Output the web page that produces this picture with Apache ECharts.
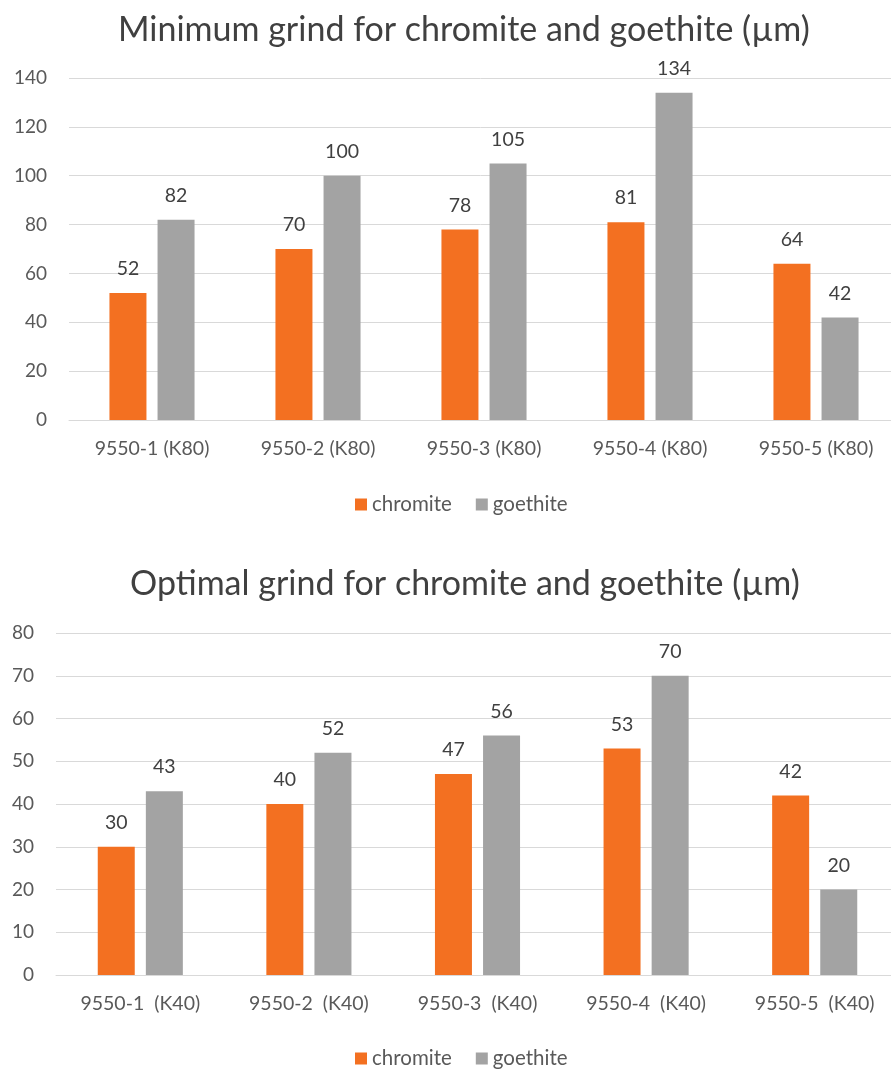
<!DOCTYPE html>
<html>
<head>
<meta charset="utf-8">
<script src="https://cdn.jsdelivr.net/npm/echarts@6/dist/echarts.min.js"></script>
<style>
html,body{margin:0;padding:0;background:#fff;}
#c{width:891px;height:1072px;}
</style>
</head>
<body>
<div id="c"></div>
<script>
const titles = ['Minimum grind for chromite and goethite (µm)', 'Optimal grind for chromite and goethite (µm)'];
const seriesNames = ['chromite', 'goethite'];
const categoriesTop = ['9550-1 (K80)', '9550-2 (K80)', '9550-3 (K80)', '9550-4 (K80)', '9550-5 (K80)'];
const categoriesBottom = ['9550-1  (K40)', '9550-2  (K40)', '9550-3  (K40)', '9550-4  (K40)', '9550-5  (K40)'];
const chromiteTop = [52, 70, 78, 81, 64];
const goethiteTop = [82, 100, 105, 134, 42];
const chromiteBottom = [30, 40, 47, 53, 42];
const goethiteBottom = [43, 52, 56, 70, 20];
const yTicksTop = {min: 0, max: 140, interval: 20};
const yTicksBottom = {min: 0, max: 80, interval: 10};

const FONT = 'Lato';
const colors = ['#F37021', '#A3A3A3'];
const labelColor = '#595959';

function xAxis(idx, data) {
  return {
    type: 'category', gridIndex: idx, data: data,
    axisTick: {show: false},
    axisLine: {lineStyle: {color: '#D9D9D9', width: 1}},
    axisLabel: {color: labelColor, fontFamily: FONT, fontSize: 19.5, margin: 19}
  };
}
function yAxis(idx, t) {
  return {
    type: 'value', gridIndex: idx, min: t.min, max: t.max, interval: t.interval,
    axisLine: {show: false}, axisTick: {show: false},
    splitLine: {lineStyle: {color: '#D9D9D9', width: 1}},
    axisLabel: {color: labelColor, fontFamily: FONT, fontSize: 19, margin: 22}
  };
}
function bar(name, idx, data, color) {
  return {
    name: name, type: 'bar', xAxisIndex: idx, yAxisIndex: idx, data: data,
    barWidth: 37, barGap: '30%',
    itemStyle: {color: color},
    label: {show: true, position: 'top', distance: 14, color: '#404040', fontFamily: FONT, fontSize: 19.5}
  };
}
function legend(top) {
  return {
    data: seriesNames, left: 350, top: top, icon: 'rect', itemWidth: 12, itemHeight: 12, itemGap: 24,
    textStyle: {color: labelColor, fontFamily: FONT, fontSize: 20.5}
  };
}
function title(text, left, top) {
  return {
    text: text, left: left, top: top, padding: 0,
    textStyle: {color: '#404040', fontFamily: FONT, fontSize: 34, fontWeight: 'normal'}
  };
}

const chart = echarts.init(document.getElementById('c'), null, {renderer: 'canvas'});
chart.setOption({
  backgroundColor: '#fff',
  animation: false,
  color: colors,
  title: [title(titles[0], 118, 13), title(titles[1], 130, 567)],
  legend: [legend(489), legend(1043)],
  grid: [
    {left: 69, top: 78, right: -8, height: 342, outerBoundsMode: 'none'},
    {left: 56, top: 633, right: -8, height: 342, outerBoundsMode: 'none'}
  ],
  xAxis: [xAxis(0, categoriesTop), xAxis(1, categoriesBottom)],
  yAxis: [yAxis(0, yTicksTop), yAxis(1, yTicksBottom)],
  series: [
    bar(seriesNames[0], 0, chromiteTop, colors[0]),
    bar(seriesNames[1], 0, goethiteTop, colors[1]),
    bar(seriesNames[0], 1, chromiteBottom, colors[0]),
    bar(seriesNames[1], 1, goethiteBottom, colors[1])
  ]
});
</script>
</body>
</html>
